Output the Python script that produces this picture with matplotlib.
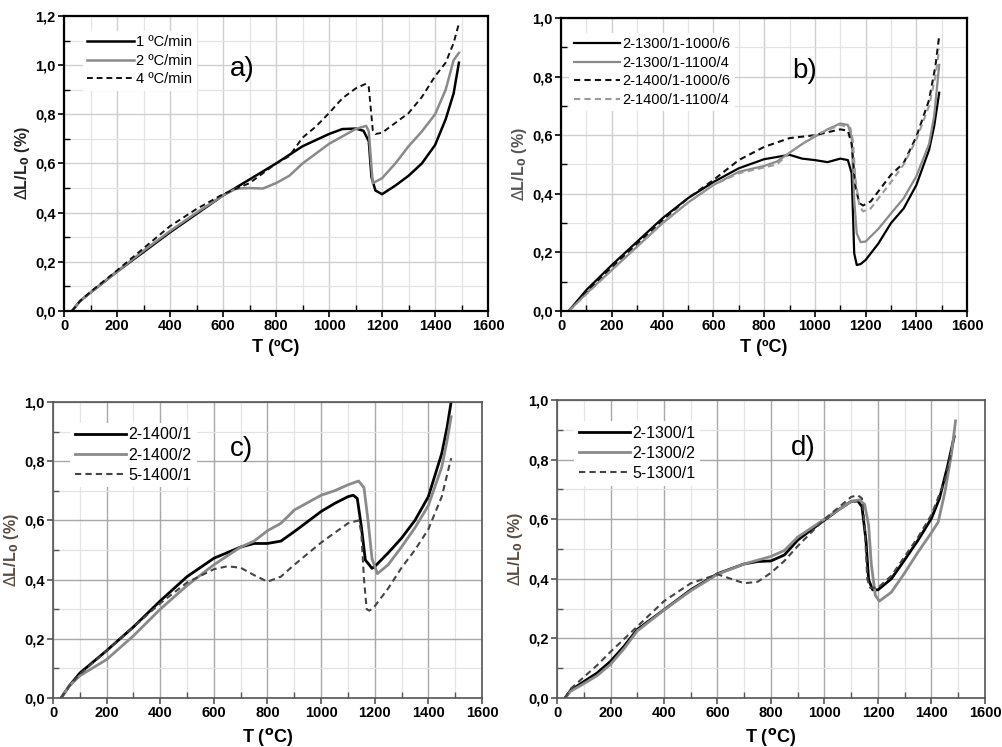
import numpy as np
import matplotlib
matplotlib.use("Agg")
import matplotlib.pyplot as plt
from matplotlib.ticker import MultipleLocator, FuncFormatter

plt.rcParams['font.family'] = ['Liberation Sans', 'DejaVu Sans']

# ---- a) heating rate ----
Ta1 = [30, 60, 100, 200, 300, 400, 500, 600, 700, 800, 900, 1000, 1050, 1100, 1130, 1150, 1160, 1175, 1200, 1250, 1300, 1350, 1400, 1440, 1470, 1490]
La1 = [0.0, 0.04, 0.075, 0.16, 0.24, 0.32, 0.395, 0.47, 0.535, 0.60, 0.67, 0.72, 0.74, 0.742, 0.733, 0.69, 0.545, 0.49, 0.475, 0.51, 0.55, 0.60, 0.675, 0.78, 0.885, 1.01]
Ta2 = [30, 60, 100, 200, 300, 400, 500, 600, 650, 700, 750, 800, 850, 900, 950, 1000, 1050, 1100, 1140, 1150, 1160, 1165, 1200, 1250, 1300, 1350, 1400, 1440, 1470, 1490]
La2 = [0.0, 0.04, 0.075, 0.16, 0.245, 0.325, 0.40, 0.47, 0.498, 0.50, 0.498, 0.52, 0.55, 0.60, 0.64, 0.68, 0.71, 0.74, 0.753, 0.73, 0.586, 0.52, 0.54, 0.60, 0.67, 0.73, 0.80, 0.90, 1.02, 1.05]
Ta4 = [30, 60, 100, 200, 300, 400, 500, 600, 700, 800, 850, 900, 950, 1000, 1050, 1100, 1140, 1150, 1165, 1175, 1200, 1250, 1300, 1350, 1400, 1440, 1470, 1490]
La4 = [0.0, 0.04, 0.078, 0.165, 0.255, 0.345, 0.415, 0.475, 0.52, 0.60, 0.63, 0.705, 0.75, 0.805, 0.865, 0.905, 0.925, 0.91, 0.735, 0.72, 0.725, 0.765, 0.805, 0.87, 0.955, 1.01, 1.09, 1.17]

# ---- b) sintering cycles ----
Tb1 = [30, 100, 200, 300, 400, 500, 600, 700, 800, 880, 900, 950, 1000, 1050, 1100, 1130, 1145, 1155, 1165, 1180, 1200, 1250, 1300, 1350, 1400, 1450, 1470, 1490]
Lb1 = [0.0, 0.072, 0.157, 0.237, 0.317, 0.385, 0.44, 0.487, 0.518, 0.53, 0.533, 0.52, 0.515, 0.508, 0.52, 0.515, 0.47, 0.197, 0.157, 0.16, 0.174, 0.23, 0.30, 0.35, 0.43, 0.55, 0.63, 0.745]
Tb2 = [30, 100, 200, 300, 400, 500, 600, 700, 800, 850, 900, 950, 1000, 1050, 1100, 1130, 1145, 1155, 1165, 1180, 1200, 1250, 1300, 1350, 1400, 1450, 1470, 1490]
Lb2 = [0.0, 0.06, 0.14, 0.22, 0.30, 0.37, 0.43, 0.475, 0.495, 0.51, 0.54, 0.57, 0.595, 0.62, 0.64, 0.635, 0.595, 0.38, 0.265, 0.235, 0.237, 0.28, 0.333, 0.385, 0.46, 0.57, 0.665, 0.84]
Tb3 = [30, 100, 200, 300, 400, 500, 600, 700, 800, 900, 1000, 1050, 1100, 1130, 1145, 1160, 1175, 1190, 1220, 1300, 1350, 1400, 1450, 1475, 1490]
Lb3 = [0.0, 0.065, 0.15, 0.23, 0.31, 0.385, 0.447, 0.515, 0.56, 0.59, 0.60, 0.61, 0.62, 0.615, 0.57, 0.425, 0.368, 0.36, 0.374, 0.465, 0.505, 0.595, 0.72, 0.835, 0.94]
Tb4 = [30, 100, 200, 300, 400, 500, 600, 700, 800, 850, 900, 1000, 1100, 1140, 1150, 1160, 1175, 1190, 1220, 1300, 1350, 1400, 1450, 1475, 1490]
Lb4 = [0.0, 0.058, 0.14, 0.22, 0.30, 0.37, 0.43, 0.47, 0.49, 0.50, 0.54, 0.60, 0.635, 0.625, 0.58, 0.45, 0.36, 0.34, 0.35, 0.44, 0.50, 0.585, 0.70, 0.80, 0.895]

# ---- c) 1400 ºC series ----
Tc1 = [30, 60, 100, 200, 300, 400, 500, 600, 700, 750, 800, 850, 900, 1000, 1050, 1100, 1120, 1135, 1150, 1165, 1190, 1200, 1250, 1300, 1350, 1400, 1450, 1470, 1485]
Lc1 = [0.0, 0.04, 0.084, 0.16, 0.24, 0.328, 0.41, 0.472, 0.51, 0.522, 0.522, 0.53, 0.562, 0.63, 0.657, 0.68, 0.685, 0.674, 0.58, 0.466, 0.438, 0.444, 0.49, 0.54, 0.60, 0.68, 0.826, 0.915, 1.0]
Tc2 = [30, 60, 100, 200, 300, 400, 500, 600, 700, 750, 800, 850, 900, 950, 1000, 1050, 1100, 1140, 1160, 1175, 1190, 1210, 1250, 1300, 1350, 1400, 1450, 1470, 1485]
Lc2 = [0.0, 0.04, 0.075, 0.13, 0.21, 0.30, 0.38, 0.45, 0.51, 0.53, 0.565, 0.59, 0.635, 0.66, 0.685, 0.70, 0.72, 0.733, 0.71, 0.60, 0.47, 0.42, 0.45, 0.51, 0.575, 0.65, 0.78, 0.87, 0.95]
Tc3 = [30, 60, 100, 200, 300, 400, 500, 600, 650, 700, 750, 800, 850, 900, 1000, 1100, 1140, 1150, 1160, 1170, 1180, 1200, 1250, 1300, 1350, 1400, 1450, 1485]
Lc3 = [0.0, 0.04, 0.08, 0.16, 0.24, 0.32, 0.39, 0.435, 0.445, 0.44, 0.415, 0.393, 0.41, 0.45, 0.525, 0.59, 0.60, 0.56, 0.40, 0.30, 0.295, 0.31, 0.37, 0.44, 0.50, 0.57, 0.68, 0.81]

# ---- d) 1300 ºC series ----
Td1 = [30, 50, 100, 150, 200, 250, 300, 400, 500, 600, 700, 750, 800, 850, 900, 950, 1000, 1050, 1100, 1125, 1140, 1155, 1165, 1180, 1200, 1250, 1300, 1350, 1400, 1430, 1460, 1485]
Ld1 = [0.0, 0.025, 0.055, 0.084, 0.123, 0.173, 0.23, 0.296, 0.363, 0.417, 0.45, 0.458, 0.46, 0.48, 0.53, 0.564, 0.597, 0.63, 0.66, 0.661, 0.642, 0.53, 0.397, 0.363, 0.363, 0.40, 0.464, 0.53, 0.603, 0.67, 0.777, 0.877]
Td2 = [30, 50, 100, 150, 200, 250, 300, 400, 500, 600, 700, 800, 850, 900, 1000, 1100, 1130, 1150, 1165, 1175, 1190, 1205, 1250, 1300, 1350, 1400, 1425, 1450, 1475, 1490]
Ld2 = [0.0, 0.022, 0.048, 0.075, 0.113, 0.165, 0.225, 0.295, 0.36, 0.415, 0.45, 0.475, 0.495, 0.54, 0.60, 0.66, 0.665, 0.65, 0.58, 0.45, 0.345, 0.325, 0.355, 0.42, 0.49, 0.555, 0.59, 0.69, 0.82, 0.93]
Td3 = [30, 50, 100, 150, 200, 300, 400, 500, 600, 650, 700, 750, 800, 850, 900, 1000, 1100, 1125, 1140, 1150, 1160, 1170, 1200, 1250, 1300, 1350, 1400, 1450, 1475]
Ld3 = [0.0, 0.03, 0.07, 0.11, 0.155, 0.24, 0.325, 0.385, 0.415, 0.40, 0.385, 0.39, 0.42, 0.46, 0.51, 0.60, 0.675, 0.68, 0.67, 0.58, 0.40, 0.37, 0.37, 0.41, 0.475, 0.54, 0.615, 0.73, 0.83]

labels_a = ['1 ºC/min', '2 ºC/min', '4 ºC/min']
labels_b = ['2-1300/1-1000/6', '2-1300/1-1100/4', '2-1400/1-1000/6', '2-1400/1-1100/4']
labels_c = ['2-1400/1', '2-1400/2', '5-1400/1']
labels_d = ['2-1300/1', '2-1300/2', '5-1300/1']

comma = FuncFormatter(lambda v, p: ('%.1f' % v).replace('.', ','))

fig = plt.figure(figsize=(10.02, 7.47), dpi=100)
ax_a = fig.add_axes([0.0639, 0.5837, 0.4232, 0.3949])
ax_b = fig.add_axes([0.5600, 0.5837, 0.4052, 0.3922])
ax_c = fig.add_axes([0.0529, 0.0656, 0.4281, 0.3963])
ax_d = fig.add_axes([0.5559, 0.0656, 0.4271, 0.3989])


def style(ax, ymax, frame, gridc, tag, tx, ty, xlab, ycol, legfs, legpos):
    ax.set_xlim(0, 1600)
    ax.set_ylim(0, ymax)
    ax.xaxis.set_major_locator(MultipleLocator(200))
    ax.xaxis.set_minor_locator(MultipleLocator(100))
    ax.yaxis.set_major_locator(MultipleLocator(0.2))
    ax.yaxis.set_minor_locator(MultipleLocator(0.1))
    ax.yaxis.set_major_formatter(comma)
    ax.grid(which='major', color=gridc, lw=1.0, zorder=0)
    ax.grid(which='minor', color='#e4e4e4', lw=0.9, zorder=0)
    ax.set_axisbelow(True)
    for s in ax.spines.values():
        s.set_color(frame)
        s.set_linewidth(1.6 if frame == 'black' else 1.2)
    ax.tick_params(which='major', direction='out', length=4, width=1.2, color=frame, pad=2)
    ax.tick_params(which='minor', direction='in', length=4, width=1.0, color=frame)
    for t in ax.get_xticklabels() + ax.get_yticklabels():
        t.set_fontweight('bold')
        t.set_fontsize(10.5)
    ax.set_xlabel(xlab, fontsize=13, fontweight='bold', labelpad=4)
    ax.set_ylabel(r'$\Delta$L/L$_\mathbf{0}$ (%)', fontsize=11.5, fontweight='bold', color=ycol, labelpad=2)
    ax.text(tx, ty, tag, transform=ax.transAxes, fontsize=20, ha='center', va='center')
    leg = ax.legend(loc='upper left', bbox_to_anchor=legpos, frameon=True, fancybox=False,
                    edgecolor='none', framealpha=1.0, fontsize=legfs, handlelength=3.2,
                    handletextpad=0.15, labelspacing=0.32, borderpad=0.3, borderaxespad=0.0)
    return leg


# a)
ax_a.plot(Ta1, La1, color='black', lw=1.8, label=labels_a[0])
ax_a.plot(Ta2, La2, color='#8a8a8a', lw=1.8, label=labels_a[1])
ax_a.plot(Ta4, La4, color='#111111', lw=1.4, ls=(0, (3, 2)), label=labels_a[2])
style(ax_a, 1.2, 'black', '#cfcfcf', 'a)', 0.42, 0.82, 'T (ºC)', '#222222', 10.5, (0.045, 0.95))

# b)
ax_b.plot(Tb1, Lb1, color='black', lw=1.6, label=labels_b[0])
ax_b.plot(Tb2, Lb2, color='#8a8a8a', lw=1.6, label=labels_b[1])
ax_b.plot(Tb3, Lb3, color='#111111', lw=1.5, ls=(0, (3, 2)), label=labels_b[2])
ax_b.plot(Tb4, Lb4, color='#9a9a9a', lw=1.5, ls=(0, (3, 2)), label=labels_b[3])
style(ax_b, 1.0, 'black', '#cfcfcf', 'b)', 0.60, 0.82, 'T (ºC)', '#555555', 10.5, (0.02, 0.95))

# c)
ax_c.plot(Tc1, Lc1, color='black', lw=2.0, label=labels_c[0])
ax_c.plot(Tc2, Lc2, color='#8a8a8a', lw=2.0, label=labels_c[1])
ax_c.plot(Tc3, Lc3, color='#444444', lw=1.5, ls=(0, (3, 2)), label=labels_c[2])
style(ax_c, 1.0, '#555555', '#a8a8a8', 'c)', 0.44, 0.84, r'T ($^{\mathbf{o}}$C)', '#5a4c40', 11.5, (0.04, 0.93))

# d)
ax_d.plot(Td1, Ld1, color='black', lw=2.0, label=labels_d[0])
ax_d.plot(Td2, Ld2, color='#8a8a8a', lw=2.0, label=labels_d[1])
ax_d.plot(Td3, Ld3, color='#444444', lw=1.5, ls=(0, (3, 2)), label=labels_d[2])
style(ax_d, 1.0, '#555555', '#a8a8a8', 'd)', 0.575, 0.84, r'T ($^{\mathbf{o}}$C)', '#5a4c40', 11.5, (0.04, 0.93))

fig.savefig('out.png', dpi=100, facecolor='white')
